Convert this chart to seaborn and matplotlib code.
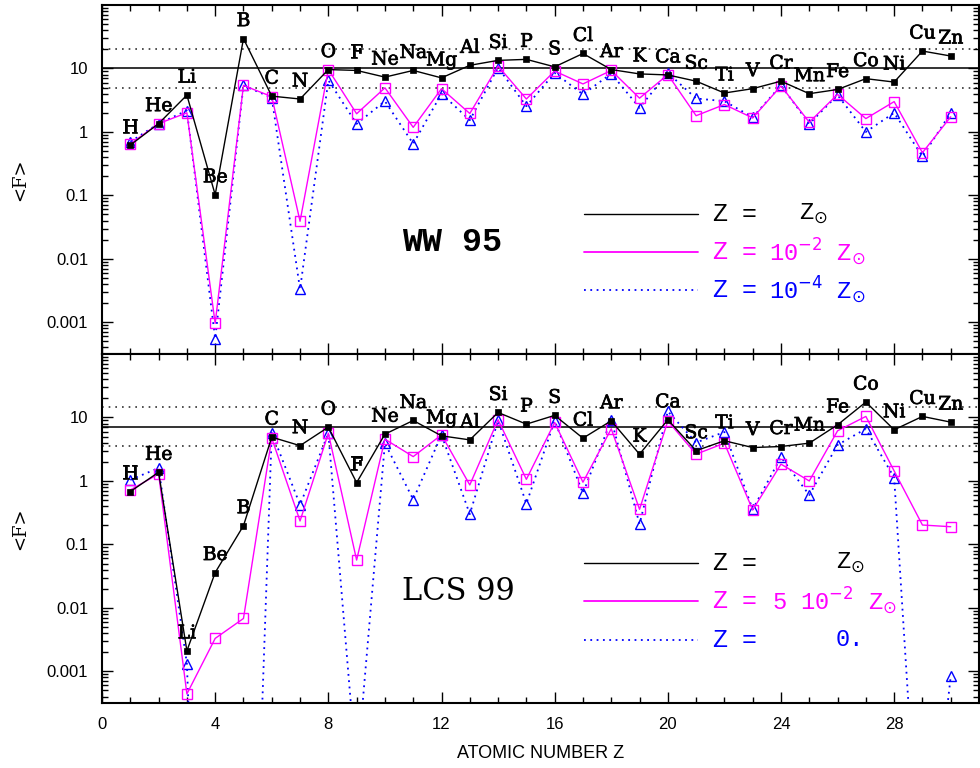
import numpy as np
import pandas as pd
import matplotlib
matplotlib.use("Agg")
import matplotlib.pyplot as plt
import matplotlib.patheffects as pe
import seaborn as sns
from matplotlib.ticker import MultipleLocator, LogLocator, NullFormatter

# ---------------- data ----------------
Z = list(range(1, 31))
elements = ["H", "He", "Li", "Be", "B", "C", "N", "O", "F", "Ne",
            "Na", "Mg", "Al", "Si", "P", "S", "Cl", "Ar", "K", "Ca",
            "Sc", "Ti", "V", "Cr", "Mn", "Fe", "Co", "Ni", "Cu", "Zn"]

ww_solar = [0.62, 1.35, 3.8, 0.102, 29.5, 3.66, 3.3, 9.6, 9.3, 7.3,
            9.3, 7.1, 11.2, 13.4, 13.9, 10.6, 17.2, 9.6, 8.2, 7.9,
            6.3, 4.1, 4.8, 6.3, 4.0, 4.66, 6.9, 6.1, 18.8, 15.7]
ww_1e2 = [0.65, 1.35, 2.0, 0.00096, 5.4, 3.6, 0.039, 9.6, 1.93, 4.95,
          1.18, 4.8, 1.95, 10.9, 3.3, 9.1, 5.7, 9.3, 3.4, 8.0,
          1.8, 2.7, 1.66, 5.3, 1.42, 3.9, 1.62, 3.0, 0.47, 1.73]
ww_1e4 = [0.70, 1.35, 2.17, 0.00055, 5.4, 3.45, 0.0033, 6.5, 1.34, 3.05,
          0.65, 4.0, 1.53, 10.3, 2.54, 8.5, 3.9, 8.3, 2.4, 8.5,
          3.36, 3.05, 1.7, 5.4, 1.34, 3.8, 1.0, 2.0, 0.41, 2.0]

lcs_solar = [0.68, 1.37, 0.0021, 0.036, 0.197, 4.9, 3.6, 7.05, 0.94, 5.46,
             8.97, 5.14, 4.44, 12.0, 7.86, 10.8, 4.72, 8.87, 2.64, 9.2,
             3.0, 4.3, 3.36, 3.49, 3.94, 7.67, 17.5, 6.4, 10.4, 8.45]
lcs_5e2 = [0.72, 1.29, 0.00044, 0.0033, 0.0068, 4.72, 0.234, 5.66, 0.0566, 4.55,
           2.42, 5.33, 0.865, 9.2, 1.06, 8.35, 0.955, 6.63, 0.357, 8.8,
           2.64, 3.94, 0.349, 1.84, 1.0, 6.17, 10.4, 1.44, 0.202, 0.19]
lcs_zero = [1.04, 1.6, 0.00132, 1e-15, 1e-12, 5.8, 0.42, 5.66, 2.5e-5, 3.94,
            0.51, 5.33, 0.30, 9.0, 0.44, 8.9, 0.64, 9.2, 0.21, 12.5,
            4.03, 5.9, 0.357, 2.37, 0.6, 3.7, 6.63, 1.13, 1e-7, 0.00083]

ww_mean = 10.0
lcs_mean = 7.2

ytick_vals = [0.001, 0.01, 0.1, 1, 10]
ytick_labels = ["0.001", "0.01", "0.1", "1", "10"]
xtick_vals = [0, 4, 8, 12, 16, 20, 24, 28]

panels = [
    dict(name="WW 95", solar=ww_solar, mid=ww_1e2, low=ww_1e4, mean=ww_mean,
         vals=[r"Z$_{\odot}$", r"10$^{-2}$ Z$_{\odot}$", r"10$^{-4}$ Z$_{\odot}$"],
         valx=[0.795, 0.761, 0.761], bold=True),
    dict(name="LCS 99", solar=lcs_solar, mid=lcs_5e2, low=lcs_zero, mean=lcs_mean,
         vals=[r"Z$_{\odot}$", r"5 10$^{-2}$ Z$_{\odot}$", "0."],
         valx=[0.837, 0.764, 0.837], bold=False),
]

# ---------------- style ----------------
sns.set_style("ticks")
plt.rcParams["font.family"] = ["Liberation Sans", "DejaVu Sans"]
for k in ["text.color", "axes.labelcolor", "xtick.color", "ytick.color", "axes.edgecolor"]:
    plt.rcParams[k] = "black"
plt.rcParams["xtick.direction"] = "in"
plt.rcParams["ytick.direction"] = "in"

MAG = "#ff00ff"
BLUE = "#0000ff"

fig = plt.figure(figsize=(9.8, 7.68), dpi=100)
ax_top = fig.add_axes([0.1041, 0.5391, 0.8949, 0.4544])
ax_bot = fig.add_axes([0.1041, 0.0846, 0.8949, 0.4544])

semi = [pe.withStroke(linewidth=0.5, foreground="black")]

for ax, p in zip([ax_top, ax_bot], panels):
    df = pd.DataFrame({"Z": Z, "solar": p["solar"], "mid": p["mid"], "low": p["low"]})
    ax.set_yscale("log")
    sns.lineplot(data=df, x="Z", y="low", ax=ax, color=BLUE, linestyle=(0, (1, 2.5)),
                 linewidth=1.3, marker="^", markersize=7.5, markerfacecolor="none",
                 markeredgecolor=BLUE, markeredgewidth=1.0, sort=False, estimator=None)
    sns.lineplot(data=df, x="Z", y="mid", ax=ax, color=MAG, linestyle="-",
                 linewidth=1.0, marker="s", markersize=6.5, markerfacecolor="none",
                 markeredgecolor=MAG, markeredgewidth=1.0, sort=False, estimator=None)
    sns.lineplot(data=df, x="Z", y="solar", ax=ax, color="black", linestyle="-",
                 linewidth=1.0, marker="s", markersize=4.5, markerfacecolor="black",
                 markeredgecolor="black", markeredgewidth=0.5, sort=False, estimator=None)

    ax.axhline(p["mean"], color="#333333", lw=1.4, zorder=0.5)
    ax.axhline(p["mean"] * 2, color="#333333", lw=1.2, ls=(0, (1, 3)), zorder=0.5)
    ax.axhline(p["mean"] / 2, color="#333333", lw=1.2, ls=(0, (1, 3)), zorder=0.5)

    for z, el, v in zip(Z, elements, p["solar"]):
        ax.text(z, v * 10 ** 0.276, el, ha="center", va="center",
                family=["DejaVu Serif"], fontsize=13.5, color="black",
                path_effects=semi)

    ax.set_xlim(0, 31)
    ax.set_ylim(10 ** -3.5, 10 ** 2.0)
    ax.set_xticks(xtick_vals)
    ax.xaxis.set_minor_locator(MultipleLocator(1))
    ax.set_yticks(ytick_vals)
    ax.set_yticklabels(ytick_labels)
    ax.yaxis.set_minor_locator(LogLocator(base=10, subs=np.arange(2, 10), numticks=30))
    ax.yaxis.set_minor_formatter(NullFormatter())
    ax.tick_params(which="both", direction="in", top=True, right=True,
                   labelsize=12, width=1.0, pad=10, colors="black")
    ax.tick_params(which="major", length=8)
    ax.tick_params(which="minor", length=4)
    for s in ax.spines.values():
        s.set_linewidth(1.5)
        s.set_color("black")
    ax.set_xlabel("")
    ax.set_ylabel("")

    # panel name
    ax.text(0.342, 0.32, p["name"], transform=ax.transAxes, ha="left", va="center",
            family=["Liberation Mono"] if p["bold"] else ["DejaVu Serif"],
            fontweight="bold" if p["bold"] else "normal",
            fontsize=24 if p["bold"] else 22)

    # legend
    cols = ["black", MAG, BLUE]
    lss = ["-", "-", (0, (1, 2.5))]
    ys = [0.401, 0.291, 0.182]
    for c, l, yy, val, vx in zip(cols, lss, ys, p["vals"], p["valx"]):
        ax.plot([0.550, 0.679], [yy, yy], transform=ax.transAxes, color=c, ls=l,
                lw=1.3 if c != "black" else 1.0)
        ax.text(0.696, yy, "Z", transform=ax.transAxes, color=c, ha="left", va="center",
                family=["Liberation Mono"], fontsize=18)
        ax.text(0.729, yy, "=", transform=ax.transAxes, color=c, ha="left", va="center",
                family=["Liberation Mono"], fontsize=18)
        ax.text(vx, yy, val, transform=ax.transAxes, color=c, ha="left", va="center",
                family=["Liberation Mono"], fontsize=17)

ax_top.tick_params(axis="x", labelbottom=False)

fig.text(0.0204, 0.7663, "<F>", rotation=90, ha="center", va="center",
         family=["DejaVu Serif"], fontsize=13)
fig.text(0.0204, 0.3118, "<F>", rotation=90, ha="center", va="center",
         family=["DejaVu Serif"], fontsize=13)
fig.text(540.5 / 980, 1 - 754 / 768, "ATOMIC NUMBER Z", ha="center", va="center",
         fontsize=13)

fig.savefig("out.png", dpi=100)
